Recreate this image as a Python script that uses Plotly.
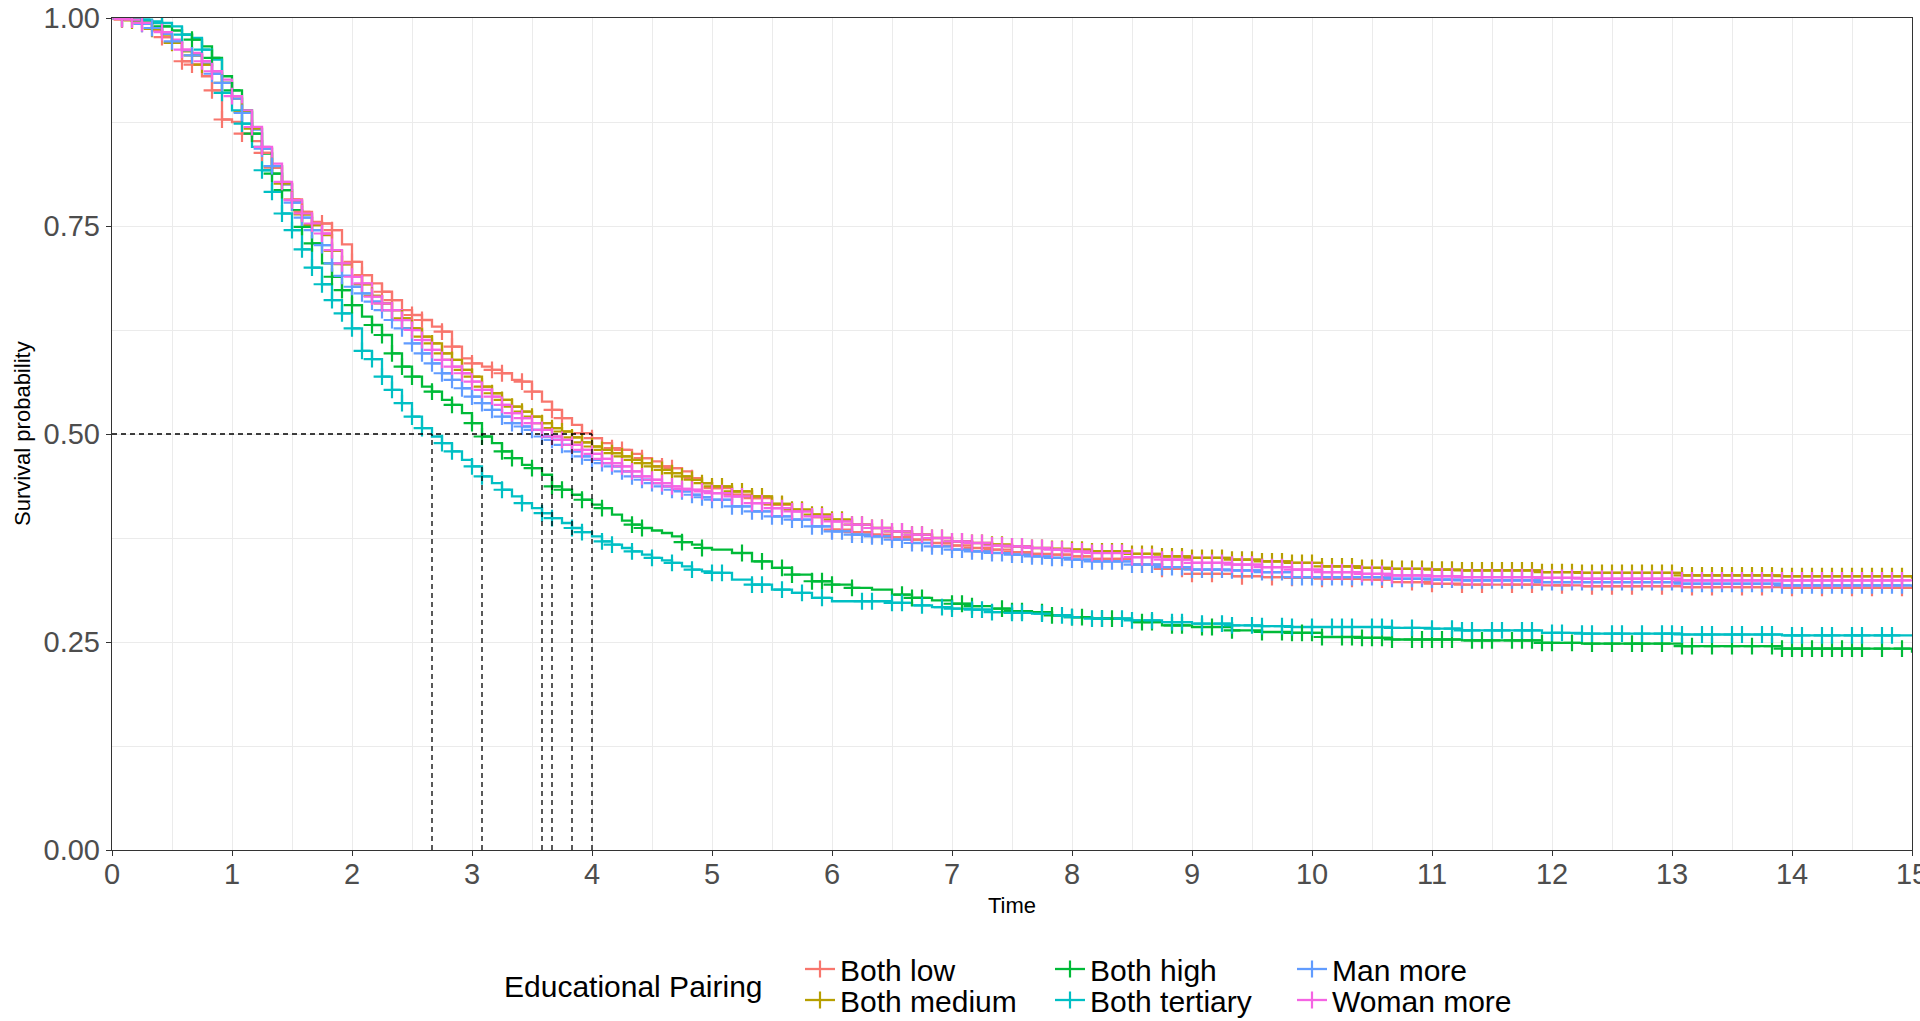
import numpy as np
import plotly.graph_objects as go

# ---------------- data ----------------
groups = ["Both low", "Both medium", "Both high", "Both tertiary", "Man more", "Woman more"]
colors = ["#F8766D", "#B79F00", "#00BA38", "#00BFC4", "#619CFF", "#F564E3"]

# shared time grid (months since start)
months = list(range(0, 61)) + [62, 64, 66, 68, 70, 72, 74, 76, 78, 80, 82, 84, 86, 88, 90, 92, 94, 96,
                               98, 102, 105, 108, 112, 115, 118, 121, 125, 128, 132, 135, 143, 147,
                               157, 167, 180]

surv_low = [1.000, 0.998, 0.996, 0.993, 0.985, 0.977, 0.970, 0.948, 0.944, 0.930,
            0.913, 0.878, 0.875, 0.861, 0.852, 0.838, 0.820, 0.800, 0.782, 0.767,
            0.755, 0.753, 0.745, 0.728, 0.707, 0.691, 0.681, 0.671, 0.661, 0.649,
            0.643, 0.637, 0.629, 0.623, 0.605, 0.591, 0.585, 0.581, 0.577, 0.573,
            0.565, 0.563, 0.551, 0.539, 0.529, 0.519, 0.511, 0.501, 0.495, 0.489,
            0.483, 0.481, 0.476, 0.471, 0.467, 0.461, 0.459, 0.455, 0.447, 0.441,
            0.435,
            0.427, 0.423, 0.415, 0.408, 0.400, 0.385, 0.382, 0.379, 0.376, 0.373,
            0.369, 0.366, 0.363, 0.361, 0.358, 0.356, 0.355, 0.353, 0.350, 0.343,
            0.338, 0.332, 0.329, 0.328, 0.327, 0.326, 0.325, 0.322, 0.320, 0.319,
            0.318, 0.317, 0.316, 0.315, 0.314]

surv_medium = [1.000, 0.999, 0.997, 0.993, 0.987, 0.980, 0.970, 0.960, 0.955, 0.944,
               0.933, 0.922, 0.903, 0.887, 0.867, 0.843, 0.822, 0.801, 0.780, 0.764,
               0.751, 0.739, 0.720, 0.704, 0.689, 0.680, 0.666, 0.657, 0.649, 0.639,
               0.627, 0.617, 0.609, 0.597, 0.589, 0.577, 0.569, 0.557, 0.549, 0.541,
               0.533, 0.527, 0.521, 0.513, 0.507, 0.503, 0.496, 0.490, 0.485, 0.481,
               0.477, 0.473, 0.469, 0.465, 0.461, 0.457, 0.453, 0.449, 0.445, 0.441,
               0.437,
               0.431, 0.425, 0.416, 0.409, 0.403, 0.397, 0.391, 0.387, 0.383, 0.379,
               0.375, 0.371, 0.369, 0.367, 0.365, 0.363, 0.362, 0.361, 0.359, 0.356,
               0.353, 0.351, 0.349, 0.347, 0.345, 0.341, 0.339, 0.338, 0.337, 0.336,
               0.334, 0.333, 0.330, 0.329, 0.326]

surv_high = [1.000, 1.000, 0.999, 0.997, 0.994, 0.990, 0.985, 0.980, 0.974, 0.966,
             0.952, 0.930, 0.913, 0.889, 0.861, 0.837, 0.813, 0.793, 0.769, 0.749,
             0.729, 0.705, 0.689, 0.673, 0.655, 0.641, 0.631, 0.619, 0.597, 0.581,
             0.569, 0.557, 0.551, 0.541, 0.535, 0.525, 0.513, 0.497, 0.489, 0.479,
             0.471, 0.463, 0.459, 0.451, 0.437, 0.433, 0.427, 0.421, 0.415, 0.411,
             0.403, 0.396, 0.391, 0.387, 0.384, 0.381, 0.377, 0.370, 0.367, 0.363,
             0.361,
             0.357, 0.347, 0.339, 0.331, 0.323, 0.319, 0.315, 0.313, 0.307, 0.303,
             0.300, 0.296, 0.293, 0.290, 0.287, 0.286, 0.282, 0.280, 0.278, 0.274,
             0.270, 0.268, 0.264, 0.262, 0.261, 0.256, 0.255, 0.253, 0.253, 0.252,
             0.249, 0.248, 0.245, 0.242, 0.237]

surv_tertiary = [1.000, 1.000, 0.999, 0.998, 0.996, 0.994, 0.990, 0.980, 0.976, 0.962,
                 0.950, 0.910, 0.889, 0.873, 0.845, 0.817, 0.791, 0.765, 0.745, 0.722,
                 0.700, 0.680, 0.661, 0.645, 0.627, 0.600, 0.590, 0.569, 0.553, 0.537,
                 0.521, 0.507, 0.497, 0.489, 0.479, 0.469, 0.461, 0.449, 0.441, 0.433,
                 0.425, 0.417, 0.411, 0.405, 0.399, 0.393, 0.387, 0.382, 0.377, 0.371,
                 0.367, 0.363, 0.359, 0.355, 0.351, 0.348, 0.345, 0.341, 0.337, 0.335,
                 0.333,
                 0.325, 0.319, 0.313, 0.309, 0.303, 0.299, 0.299, 0.299, 0.297, 0.294,
                 0.292, 0.290, 0.289, 0.286, 0.285, 0.284, 0.282, 0.280, 0.278, 0.276,
                 0.274, 0.272, 0.270, 0.269, 0.268, 0.268, 0.268, 0.267, 0.266, 0.264,
                 0.261, 0.260, 0.259, 0.258, 0.257]

surv_man = [1.000, 0.999, 0.997, 0.993, 0.988, 0.981, 0.972, 0.961, 0.955, 0.945,
            0.933, 0.922, 0.903, 0.886, 0.866, 0.843, 0.822, 0.800, 0.778, 0.760,
            0.745, 0.727, 0.705, 0.690, 0.677, 0.669, 0.659, 0.649, 0.637, 0.627,
            0.609, 0.597, 0.585, 0.573, 0.565, 0.555, 0.545, 0.537, 0.529, 0.521,
            0.513, 0.509, 0.505, 0.497, 0.493, 0.487, 0.479, 0.473, 0.469, 0.465,
            0.461, 0.455, 0.449, 0.445, 0.441, 0.437, 0.433, 0.431, 0.427, 0.424,
            0.421,
            0.413, 0.407, 0.401, 0.397, 0.389, 0.383, 0.379, 0.377, 0.373, 0.369,
            0.365, 0.361, 0.359, 0.357, 0.355, 0.353, 0.351, 0.349, 0.347, 0.343,
            0.340, 0.337, 0.336, 0.334, 0.328, 0.328, 0.328, 0.326, 0.325, 0.324,
            0.322, 0.322, 0.320, 0.318, 0.316]

surv_woman = [1.000, 0.999, 0.998, 0.994, 0.989, 0.983, 0.974, 0.962, 0.958, 0.948,
              0.936, 0.926, 0.906, 0.889, 0.869, 0.845, 0.825, 0.803, 0.781, 0.765,
              0.753, 0.741, 0.721, 0.705, 0.689, 0.681, 0.665, 0.657, 0.649, 0.637,
              0.625, 0.613, 0.601, 0.589, 0.581, 0.573, 0.563, 0.553, 0.545, 0.535,
              0.525, 0.519, 0.513, 0.505, 0.497, 0.493, 0.487, 0.481, 0.476, 0.470,
              0.465, 0.461, 0.455, 0.449, 0.445, 0.441, 0.437, 0.434, 0.433, 0.431,
              0.429,
              0.425, 0.417, 0.411, 0.407, 0.401, 0.395, 0.391, 0.387, 0.383, 0.379,
              0.375, 0.371, 0.369, 0.366, 0.365, 0.363, 0.361, 0.359, 0.357, 0.352,
              0.349, 0.345, 0.343, 0.340, 0.337, 0.334, 0.332, 0.330, 0.329, 0.328,
              0.327, 0.326, 0.324, 0.324, 0.323]

# censoring times (months) seen as "+" marks on each curve
cens_low = [1, 3, 5, 7, 8, 10, 11, 13, 15, 16, 18, 19, 21, 22, 24, 25, 27, 28, 30, 31, 33, 34, 36,
            38, 39, 41, 42, 44, 45, 47, 48, 50, 51, 53, 55, 56, 58, 60, 62, 64, 66, 67, 69, 71, 72,
            74, 76, 78, 80, 82, 84, 86, 88, 90, 92, 95, 97, 99, 101, 103, 105, 107, 108, 110, 113,
            116, 118, 121, 124, 127, 130, 132, 135, 137, 140, 142, 145, 148, 150, 152, 155, 158,
            160, 163, 165, 168, 171, 174, 176, 179]
cens_medium = [1, 2, 4, 6, 8, 9, 11, 13, 14, 16, 17, 19, 20, 22, 23, 25, 26, 27, 28, 29, 30, 31, 32,
               33, 34, 35, 36, 37, 38, 39, 40, 41, 42, 43, 44, 45, 46, 47, 48, 49, 50, 51, 52, 53,
               54, 55, 56, 57, 58, 59, 60, 61, 62, 63, 64, 65, 66, 67, 68, 69, 70, 71, 72, 73, 74,
               75, 76, 77, 78, 79, 80, 81, 82, 83, 84, 85, 86, 87, 88, 89, 90, 91, 92, 93, 94, 95,
               96, 97, 98, 99, 100, 101, 102, 103, 104, 105, 106, 107, 108, 109, 110, 111, 112,
               113, 114, 115, 116, 117, 118, 119, 120, 121, 122, 123, 124, 125, 126, 127, 128, 129,
               130, 131, 132, 133, 134, 135, 136, 137, 138, 139, 140, 141, 142, 143, 144, 145, 146,
               147, 148, 149, 150, 151, 152, 153, 154, 155, 156, 157, 158, 159, 160, 161, 162, 163,
               164, 165, 166, 167, 168, 169, 170, 171, 172, 173, 174, 175, 176, 177, 178, 179]
cens_high = [2, 5, 8, 10, 12, 14, 16, 17, 19, 20, 22, 23, 24, 26, 27, 28, 29, 30, 32, 34, 36, 37,
             39, 40, 42, 44, 45, 47, 49, 52, 53, 57, 59, 63, 65, 67, 68, 70, 71, 72, 74, 79, 80, 81,
             84, 85, 86, 89, 90, 91, 93, 94, 96, 97, 99, 100, 103, 104, 106, 107, 109, 110, 112,
             115, 117, 118, 119, 120, 121, 123, 124, 125, 126, 127, 128, 130, 131, 132, 133, 134,
             136, 137, 138, 140, 141, 142, 143, 144, 146, 148, 150, 152, 153, 155, 157, 158, 160,
             162, 164, 166, 167, 168, 169, 170, 171, 172, 173, 174, 175, 177, 179]
cens_tertiary = [1, 3, 5, 7, 9, 11, 13, 15, 16, 17, 18, 19, 20, 21, 22, 23, 24, 25, 26, 27, 28, 29,
                 30, 31, 33, 34, 36, 37, 39, 41, 43, 44, 46, 47, 49, 50, 52, 54, 56, 58, 60, 61, 64,
                 65, 67, 69, 71, 75, 76, 78, 79, 81, 83, 84, 86, 87, 88, 90, 91, 93, 95, 96, 98, 99,
                 101, 102, 104, 106, 107, 109, 111, 112, 114, 115, 117, 118, 120, 122, 123, 124,
                 126, 127, 128, 130, 132, 134, 135, 136, 138, 139, 141, 142, 144, 145, 147, 148,
                 150, 151, 153, 155, 156, 157, 159, 160, 162, 163, 165, 166, 168, 169, 171, 172,
                 174, 175, 177, 178]
cens_man = [1, 3, 4, 6, 8, 10, 11, 13, 15, 16, 18, 19, 20, 21, 22, 23, 24, 25, 26, 27, 28, 29, 30,
            31, 32, 33, 34, 35, 36, 37, 38, 39, 40, 41, 42, 43, 44, 45, 46, 47, 48, 49, 50, 51, 52,
            53, 54, 55, 56, 57, 58, 59, 60, 61, 62, 63, 64, 65, 66, 67, 68, 69, 70, 71, 72, 73, 74,
            75, 76, 77, 78, 79, 80, 81, 82, 83, 84, 85, 86, 87, 88, 89, 90, 91, 92, 93, 94, 95, 96,
            97, 98, 99, 100, 101, 102, 103, 104, 105, 106, 107, 108, 109, 110, 111, 112, 113, 114,
            115, 116, 117, 118, 119, 120, 121, 122, 123, 124, 125, 126, 127, 128, 129, 130, 131,
            132, 133, 134, 135, 136, 137, 138, 139, 140, 141, 142, 143, 144, 145, 146, 147, 148,
            149, 150, 151, 152, 153, 154, 155, 156, 157, 158, 159, 160, 161, 162, 163, 164, 165,
            166, 167, 168, 169, 170, 171, 172, 173, 174, 175, 176, 177, 178, 179]
cens_woman = [1, 2, 3, 5, 7, 9, 10, 12, 14, 15, 17, 18, 19, 20, 21, 22, 23, 24, 25, 26, 27, 28, 29,
              30, 31, 32, 33, 34, 35, 36, 37, 38, 39, 40, 41, 42, 43, 44, 45, 46, 47, 48, 49, 50,
              51, 52, 53, 54, 55, 56, 57, 58, 59, 60, 61, 62, 63, 64, 65, 66, 67, 68, 69, 70, 71,
              72, 73, 74, 75, 76, 77, 78, 79, 80, 81, 82, 83, 84, 85, 86, 87, 88, 89, 90, 91, 92,
              93, 94, 95, 96, 97, 98, 99, 100, 101, 102, 103, 104, 105, 106, 107, 108, 109, 110,
              111, 112, 113, 114, 115, 116, 117, 118, 119, 120, 121, 122, 123, 124, 125, 126, 127,
              128, 129, 130, 131, 132, 133, 134, 135, 136, 137, 138, 139, 140, 141, 142, 143, 144,
              145, 146, 147, 148, 149, 150, 151, 152, 153, 154, 155, 156, 157, 158, 159, 160, 161,
              162, 163, 164, 165, 166, 167, 168, 169, 170, 171, 172, 173, 174, 175, 176, 177, 178,
              179]

x_ticks = list(range(0, 16))
y_ticks = [0.0, 0.25, 0.5, 0.75, 1.0]

survs = [surv_low, surv_medium, surv_high, surv_tertiary, surv_man, surv_woman]
censs = [cens_low, cens_medium, cens_high, cens_tertiary, cens_man, cens_woman]

# ---------------- figure ----------------
FONT = "Liberation Sans, Arial, sans-serif"
W, H = 1920, 1021
ML, MR, MT, MB = 112, 8, 18, 171
PW, PH = W - ML - MR, H - MT - MB


def px_to_paper_x(px):
    return (px - ML) / PW


def px_to_paper_y(py):
    return (H - MB - py) / PH


t_years = np.array(months, dtype=float) / 12.0
fig = go.Figure()

# step curves
for name, col, s in zip(groups, colors, survs):
    assert len(s) == len(months)
    fig.add_trace(go.Scatter(x=t_years, y=s, mode="lines", line=dict(color=col, width=2.3, shape="hv"),
                             showlegend=False, hoverinfo="skip"))

# censor marks (value of the step function at each censor time)
for name, col, s, c in zip(groups, colors, survs, censs):
    ct = np.array(c, dtype=float) / 12.0
    idx = np.searchsorted(t_years, ct, side="right") - 1
    cy = np.array(s)[idx]
    fig.add_trace(go.Scatter(x=ct, y=cy, mode="markers",
                             marker=dict(symbol="cross-thin", size=12, color=col,
                                         line=dict(color=col, width=2.2)),
                             showlegend=False, hoverinfo="skip"))

# median survival lines
medians = []
for s in survs:
    arr = np.array(s)
    medians.append(t_years[np.argmax(arr <= 0.5)])
mx = [0, max(medians)]
my = [0.5, 0.5]
for m in medians:
    mx += [None, m, m]
    my += [None, 0.0, 0.5]
fig.add_trace(go.Scatter(x=mx, y=my, mode="lines", line=dict(color="black", width=1.3, dash="5px,4px"),
                         showlegend=False, hoverinfo="skip"))

# legend entries: one small legend per entry, laid out in 3 columns x 2 rows
legend_ids = ["legend", "legend2", "legend3", "legend4", "legend5", "legend6"]
for name, col, lid in zip(groups, colors, legend_ids):
    fig.add_trace(go.Scatter(x=[None], y=[None], mode="lines+markers", name=name, legend=lid,
                             line=dict(color=col, width=2.3),
                             marker=dict(symbol="cross-thin", size=12, color=col,
                                         line=dict(color=col, width=2.2))))

LEG_FONT = 30
col_left_px = [800, 800, 1050, 1050, 1292, 1292]
row_center_px = [969, 1000, 969, 1000, 969, 1000]
legend_layouts = {}
for lid, lx, ly in zip(legend_ids, col_left_px, row_center_px):
    legend_layouts[lid] = dict(orientation="v", xref="container", yref="container",
                               x=lx / W, y=(H - ly) / H, xanchor="left", yanchor="middle",
                               bgcolor="rgba(0,0,0,0)", itemwidth=30,
                               font=dict(family=FONT, size=LEG_FONT, color="black"))

fig.update_layout(
    width=W, height=H, autosize=False,
    margin=dict(l=ML, r=MR, t=MT, b=MB, autoexpand=False),
    paper_bgcolor="white", plot_bgcolor="white",
    font=dict(family=FONT, color="black"),
    xaxis=dict(range=[0, 15], tickvals=x_ticks, ticktext=[str(v) for v in x_ticks],
               showgrid=True, gridcolor="#EBEBEB", gridwidth=1.3,
               minor=dict(dtick=0.5, tick0=0, showgrid=True, gridcolor="#EBEBEB", gridwidth=1),
               showline=True, linecolor="#333333", linewidth=1.4, mirror=True,
               ticks="outside", ticklen=5, tickcolor="#333333", tickwidth=1.3,
               ticklabeloverflow="allow", ticklabelstandoff=-7,
               tickfont=dict(family=FONT, size=29, color="#4D4D4D"),
               title=dict(text="Time", font=dict(family=FONT, size=22, color="black"), standoff=8),
               zeroline=False),
    yaxis=dict(range=[0, 1], tickvals=y_ticks, tickformat=".2f",
               showgrid=True, gridcolor="#EBEBEB", gridwidth=1.3,
               minor=dict(dtick=0.125, tick0=0, showgrid=True, gridcolor="#EBEBEB", gridwidth=1),
               showline=True, linecolor="#333333", linewidth=1.4, mirror=True,
               ticks="outside", ticklen=5, tickcolor="#333333", tickwidth=1.3,
               tickfont=dict(family=FONT, size=29, color="#4D4D4D"),
               zeroline=False),
    annotations=[
        dict(text="Educational Pairing", xref="paper", yref="paper",
             x=px_to_paper_x(502), y=px_to_paper_y(986), xanchor="left", yanchor="middle",
             showarrow=False, font=dict(family=FONT, size=LEG_FONT, color="black")),
        dict(text="Survival probability", xref="paper", yref="paper", textangle=-90,
             x=px_to_paper_x(22), y=0.5, xanchor="center", yanchor="middle",
             showarrow=False, font=dict(family=FONT, size=22, color="black")),
    ],
    **legend_layouts,
)

fig.write_html("out.html")
